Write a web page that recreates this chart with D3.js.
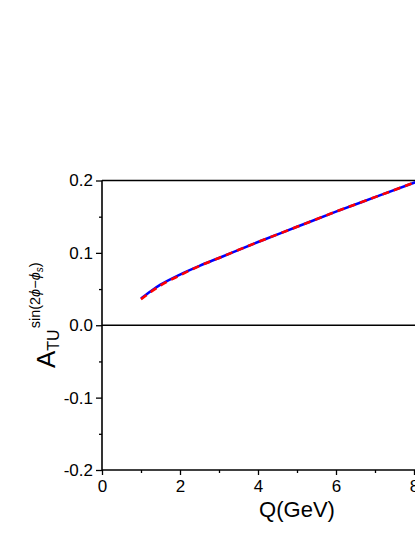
<!DOCTYPE html>
<html>
<head>
<meta charset="utf-8">
<script src="https://cdn.jsdelivr.net/npm/d3@7"></script>
<style>
  html, body { margin: 0; padding: 0; background: #fff; }
  svg { display: block; font-family: Arial, "Liberation Sans", sans-serif; }
</style>
</head>
<body>
<div id="chart"></div>
<script>
const width = 415;
const height = 537;

// values
const qValues = [1.0, 1.25, 1.5, 2.0, 2.5, 3.0, 4.0, 5.0, 6.0, 7.0, 8.0, 8.15];
const solidValues = [0.037, 0.047, 0.056, 0.070, 0.082, 0.093, 0.115, 0.136, 0.157, 0.177, 0.197, 0.200];
const dashedValues = [0.036, 0.046, 0.055, 0.069, 0.082, 0.093, 0.115, 0.136, 0.157, 0.177, 0.197, 0.200];
const xTicks = [0, 2, 4, 6, 8, 10];
const xMinor = [1, 3, 5, 7, 9];
const yTicks = [-0.2, -0.1, 0.0, 0.1, 0.2];
const yMinor = [-0.15, -0.05, 0.05, 0.15];

const svg = d3.select("#chart")
    .append("svg")
    .attr("width", width)
    .attr("height", height);

const x = d3.scaleLinear().domain([0, 10]).range([102, 492]);
const y = d3.scaleLinear().domain([-0.2, 0.2]).range([470, 180.5]);

const fmt = d => d.toFixed(1);

// left axis
svg.append("g")
    .attr("transform", `translate(${x(0)},0)`)
    .call(d3.axisLeft(y).tickValues(yTicks).tickFormat(fmt).tickSize(6).tickPadding(3));
svg.append("g")
    .attr("transform", `translate(${x(0)},0)`)
    .call(d3.axisLeft(y).tickValues(yMinor).tickFormat("").tickSize(3))
    .select(".domain").remove();

// bottom axis
svg.append("g")
    .attr("transform", `translate(0,${y(-0.2)})`)
    .call(d3.axisBottom(x).tickValues(xTicks).tickFormat(d3.format("d")).tickSize(5).tickPadding(5));
svg.append("g")
    .attr("transform", `translate(0,${y(-0.2)})`)
    .call(d3.axisBottom(x).tickValues(xMinor).tickFormat("").tickSize(3))
    .select(".domain").remove();

svg.selectAll(".domain").remove();
svg.selectAll(".tick line").attr("stroke-width", 1.3);
svg.selectAll(".tick text").attr("font-size", 17).attr("fill", "#000")
    .attr("font-family", "Arial, 'Liberation Sans', sans-serif");

// frame lines
const frame = [
    [x(0), y(-0.2), x(10), y(-0.2), 1.6],
    [x(0), y(-0.2), x(0), y(0.2), 1.6],
    [x(0), y(0.2), x(10), y(0.2), 1.6],
    [x(0), y(0), x(10), y(0), 1.4]
];
svg.selectAll(".frame")
    .data(frame)
    .enter()
    .append("line")
    .attr("x1", d => d[0]).attr("y1", d => d[1])
    .attr("x2", d => d[2]).attr("y2", d => d[3])
    .attr("stroke", "#000")
    .attr("stroke-width", d => d[4]);

// curves
const line = d3.line()
    .x(d => x(d[0]))
    .y(d => y(d[1]))
    .curve(d3.curveMonotoneX);

svg.append("path")
    .datum(qValues.map((q, i) => [q, solidValues[i]]))
    .attr("fill", "none")
    .attr("stroke", "#0000ff")
    .attr("stroke-width", 2.6)
    .attr("d", line);

svg.append("path")
    .datum(qValues.map((q, i) => [q, dashedValues[i]]))
    .attr("fill", "none")
    .attr("stroke", "#ff0000")
    .attr("stroke-width", 2.6)
    .attr("stroke-dasharray", "7,5")
    .attr("d", line);

// axis titles
svg.append("text")
    .attr("x", 297)
    .attr("y", 517)
    .attr("text-anchor", "middle")
    .attr("font-size", 22)
    .text("Q(GeV)");

const yt = svg.append("text")
    .attr("transform", "translate(55,368) rotate(-90)")
    .attr("font-size", 26);
yt.append("tspan").text("A");
yt.append("tspan").attr("font-size", 16).attr("dy", 4).text("TU");
const sup = yt.append("tspan").attr("font-size", 14.5).attr("dy", -19).attr("dx", 1);
sup.append("tspan").text("sin(2");
sup.append("tspan").attr("font-style", "italic").text("\u03d5\u2212\u03d5");
sup.append("tspan").attr("font-size", 10).attr("dy", 3).attr("font-style", "italic").text("s");
sup.append("tspan").attr("dy", -3).text(")");
</script>
</body>
</html>
